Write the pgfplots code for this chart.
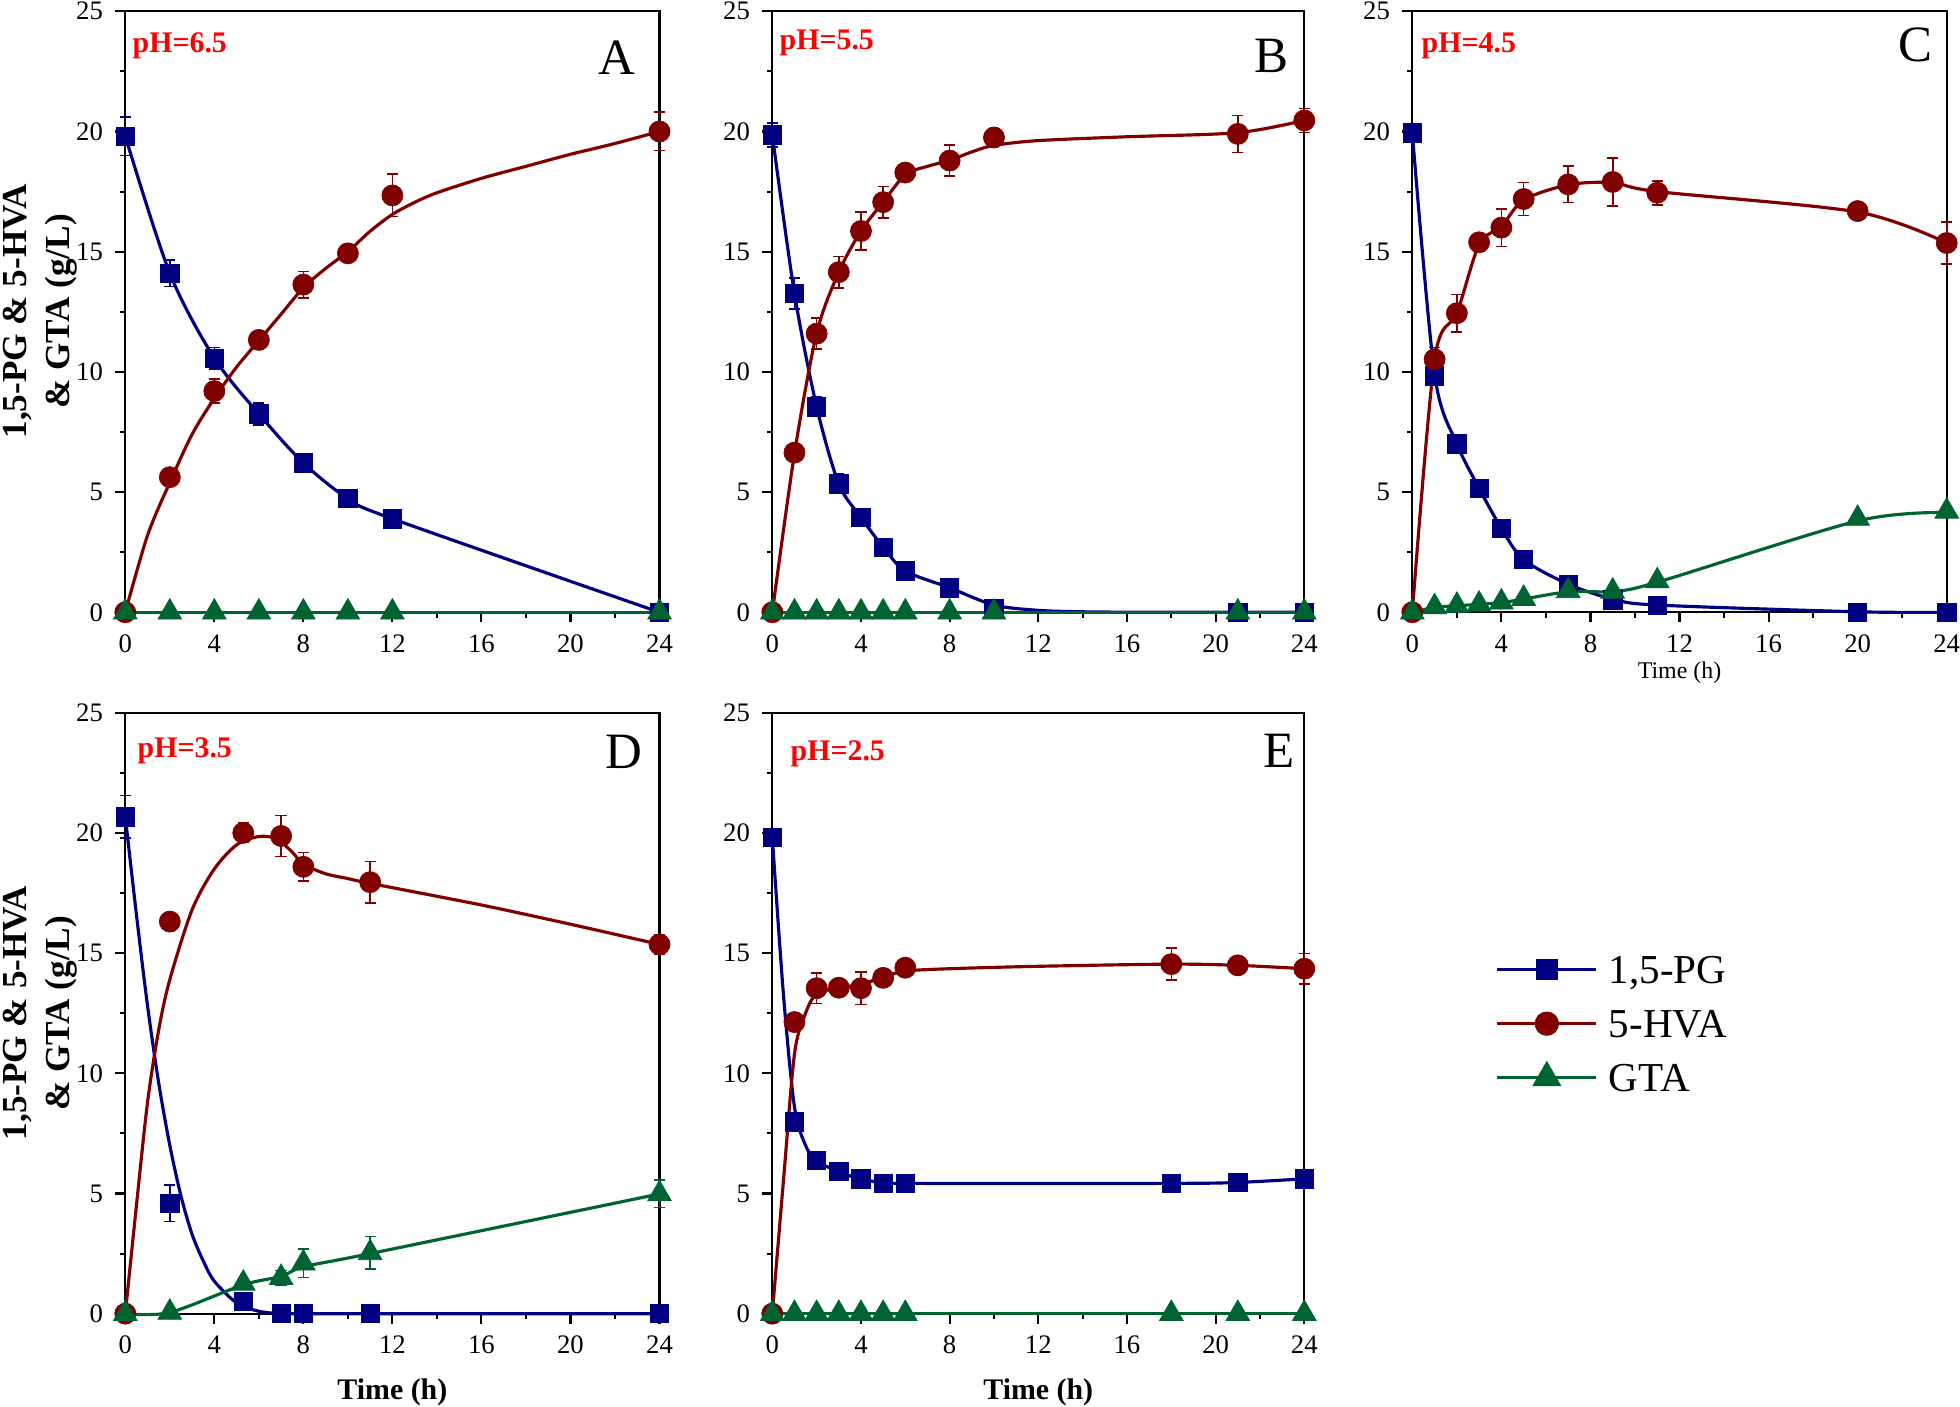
\documentclass[border=0pt]{standalone}
\usepackage{fontspec}
\setmainfont{Liberation Serif}
\usepackage{pgfplots}
\pgfplotsset{compat=1.18}
\definecolor{cblue}{RGB}{0,0,128}
\definecolor{cred}{RGB}{128,0,0}
\definecolor{cgreen}{RGB}{0,100,50}
\definecolor{phred}{RGB}{255,0,0}
\pgfplotsset{
  panel/.style={
    scale only axis, height=60.1mm,
    xmin=0, xmax=24, ymin=0, ymax=25,
    xtick={0,4,...,24}, ytick={0,5,...,25},
    minor x tick num=1, minor y tick num=1,
    tick align=outside, tick pos=left,
    major tick length=1mm, minor tick length=0.55mm,
    axis line style={line width=0.6pt, black},
    every tick/.style={line width=0.6pt, black},
    ticklabel style={font=\fontsize{7.6}{9}\selectfont},
    /pgf/number format/assume math mode=true,
    clip=false, anchor=south west,
  },
  ln/.style={color=#1, line width=0.9pt, smooth, no markers, forget plot},
  mk/.style n args={3}{only marks, mark=#1, mark size=#2, color=#3,
    mark options={solid, fill=#3, draw=#3, line width=0.2pt},
    error bars/y dir=both, error bars/y explicit,
    error bars/error mark=|,
    error bars/error bar style={line width=0.45pt, #3},
    error bars/error mark options={line width=0.45pt, #3, mark size=1.6pt},
    forget plot},
  bm/.style={mk={square*}{2.6pt}{cblue}},
  rm/.style={mk={*}{3pt}{cred}},
  gm/.style={mk={triangle*}{3.9pt}{cgreen}},
}
\begin{document}
\begin{tikzpicture}
\path[use as bounding box] (0,0) rectangle (196mm,140.7mm);

% ---------------- Panel A ----------------
\begin{axis}[panel, width=53.42mm, at={(12.53mm,79.47mm)}]
\addplot[ln=cblue] table {
0 19.8
2 14.1
4 10.57
6 8.25
8 6.21
10 4.73
12 3.89
24 0
};
\addplot[bm] table[x index=0,y index=1,y error index=2] {
0 19.8 0.8
2 14.1 0.55
4 10.57 0.45
6 8.25 0.45
8 6.21 0.35
10 4.73 0.2
12 3.89 0.3
24 0 0
};
\addplot[ln=cred] table {
0 0
1 3.2
2 5.4
3 7.4
4 8.9
5 10.2
6 11.3
7 12.4
8 13.5
9 14.3
10 15.0
11 15.85
12 16.55
13 17.05
14 17.45
16 18.05
18 18.55
20 19.05
22 19.5
24 20.0
};
\addplot[rm] table[x index=0,y index=1,y error index=2] {
0 0 0
2 5.62 0.2
4 9.2 0.5
6 11.33 0.2
8 13.63 0.55
10 14.93 0.3
12 17.34 0.88
24 20.0 0.8
};
\addplot[ln=cgreen] table {
0 0
24 0
};
\addplot[gm] table[x index=0,y index=1,y error index=2] {
0 0 0
2 0 0
4 0 0
6 0 0
8 0 0
10 0 0
12 0 0
24 0 0
};
\end{axis}

% ---------------- Panel B ----------------
\begin{axis}[panel, width=53.2mm, at={(77.23mm,79.47mm)}]
\addplot[ln=cblue] table {
0 19.86
1 13.26
2 8.55
3 5.34
4 3.95
5 2.71
6 1.72
8 1.02
10 0.3
12 0.08
14 0.02
17 0
21 0
24 0
};
\addplot[bm] table[x index=0,y index=1,y error index=2] {
0 19.86 0.5
1 13.26 0.65
2 8.55 0.4
3 5.34 0.4
4 3.95 0.2
5 2.71 0.2
6 1.72 0.15
8 1.02 0.1
10 0.15 0.1
21 0 0
24 0 0
};
\addplot[ln=cred] table {
0 0
1 6.6
2 11.6
3 14.15
4 15.86
5 17.06
6 18.2
7 18.55
8 18.8
9 19.15
10 19.42
12 19.62
16 19.78
21 19.95
24 20.46
};
\addplot[rm] table[x index=0,y index=1,y error index=2] {
0 0 0
1 6.64 0.3
2 11.59 0.65
3 14.15 0.65
4 15.86 0.78
5 17.06 0.65
6 18.29 0.35
8 18.79 0.65
10 19.75 0.2
21 19.9 0.77
24 20.46 0.5
};
\addplot[ln=cgreen] table {
0 0
24 0
};
\addplot[gm] table[x index=0,y index=1,y error index=2] {
0 0 0
1 0 0
2 0 0
3 0 0
4 0 0
5 0 0
6 0 0
8 0 0
10 0 0
21 0 0
24 0 0
};
\end{axis}

% ---------------- Panel C ----------------
\begin{axis}[panel, width=53.44mm, at={(141.23mm,79.47mm)}]
\addplot[ln=cblue] table {
0 19.94
1 9.9
2 7.01
3 5.16
4 3.49
5 2.19
7 1.17
9 0.55
11 0.3
20 0.02
24 0
};
\addplot[bm] table[x index=0,y index=1,y error index=2] {
0 19.94 0.3
1 9.83 0.4
2 7.01 0.2
3 5.16 0.2
4 3.49 0.2
5 2.19 0.15
7 1.17 0.1
9 0.52 0.1
11 0.28 0.05
20 0 0
24 0 0
};
\addplot[ln=cred] table {
0 0
1 10.52
2 12.44
3 15.3
4 16.05
5 17.15
7 17.78
9 17.87
11 17.5
20 16.65
24 15.36
};
\addplot[rm] table[x index=0,y index=1,y error index=2] {
0 0 0
1 10.52 0.5
2 12.44 0.78
3 15.39 0.35
4 16.0 0.78
5 17.19 0.68
7 17.8 0.76
9 17.9 1.0
11 17.45 0.5
20 16.69 0.3
24 15.36 0.87
};
\addplot[ln=cgreen] table {
0 0
1 0.2
2 0.27
3 0.33
4 0.4
5 0.55
7 0.85
9 0.87
11 1.25
20 3.8
24 4.15
};
\addplot[gm] table[x index=0,y index=1,y error index=2] {
0 0 0
1 0.22 0
2 0.28 0
3 0.33 0
4 0.42 0
5 0.57 0
7 0.89 0
9 0.87 0
11 1.3 0
20 3.9 0
24 4.2 0
};
\end{axis}

% ---------------- Panel D ----------------
\begin{axis}[panel, width=53.42mm, at={(12.53mm,9.33mm)}]
\addplot[ln=cblue] table {
0 20.67
0.5 16.6
1 12.8
1.5 9.6
2 7.0
2.5 4.9
3 3.3
3.5 2.2
4 1.35
5 0.45
6 0.1
7 0
8 0
11 0
24 0
};
\addplot[bm] table[x index=0,y index=1,y error index=2] {
0 20.67 0.88
2 4.6 0.76
5.3 0.51 0.1
7 0 0
8 0 0
11 0 0
24 0 0
};
\addplot[ln=cred] table {
0 0
0.5 4.5
1 8.8
1.5 11.8
2 13.9
3 16.8
4 18.5
5 19.5
6 19.85
6.8 19.75
7.5 19.2
8 18.7
9 18.3
10 18.1
11 17.9
16 17.0
20 16.2
24 15.36
};
\addplot[rm] table[x index=0,y index=1,y error index=2] {
0 0 0
2 16.31 0.3
5.3 20.0 0.4
7 19.87 0.85
8 18.59 0.6
11 17.95 0.86
24 15.36 0.4
};
\addplot[ln=cgreen] table {
0 0
2 0.05
5.3 1.2
7 1.55
8 1.95
11 2.5
24 4.98
};
\addplot[gm] table[x index=0,y index=1,y error index=2] {
0 0 0
2 0.05 0.05
5.3 1.26 0.2
7 1.5 0.3
8 2.1 0.6
11 2.53 0.68
24 4.98 0.57
};
\end{axis}

% ---------------- Panel E ----------------
\begin{axis}[panel, width=53.2mm, at={(77.23mm,9.33mm)},
  legend style={at={(1.3585,0.6185)}, anchor=north west, draw=none, fill=none,
    inner sep=0pt, column sep=1.1mm, row sep=0pt,
    font=\fontsize{11.7}{14}\selectfont,
    nodes={inner sep=0pt, text height=4.1mm, text depth=1.3mm},
    cells={anchor=west}},
  legend image code/.code={\draw[mark repeat=2,mark phase=2,#1] plot coordinates {(0cm,0cm) (0.495cm,0cm) (0.99cm,0cm)};}]
\addplot[ln=cblue] table {
0 19.81
0.5 13.3
1 8.6
1.5 7.0
2 6.37
3 5.9
4 5.6
5 5.45
6 5.42
18 5.42
21 5.46
24 5.61
};
\addplot[bm] table[x index=0,y index=1,y error index=2] {
0 19.81 0.2
1 7.98 0.2
2 6.37 0.2
3 5.93 0.1
4 5.61 0.1
5 5.42 0.1
6 5.42 0.1
18 5.42 0.1
21 5.46 0.1
24 5.61 0.1
};
\addplot[ln=cred] table {
0 0
0.5 5.5
1 10.8
1.5 12.5
2 13.3
3 13.55
4 13.7
5 14.0
6 14.25
8 14.35
12 14.45
18 14.54
21 14.49
24 14.35
};
\addplot[rm] table[x index=0,y index=1,y error index=2] {
0 0 0
1 12.13 0.2
2 13.54 0.63
3 13.56 0.2
4 13.54 0.68
5 13.97 0.3
6 14.39 0.2
18 14.54 0.67
21 14.49 0.2
24 14.35 0.64
};
\addplot[ln=cgreen] table {
0 0
24 0
};
\addplot[gm] table[x index=0,y index=1,y error index=2] {
0 0 0
1 0 0
2 0 0
3 0 0
4 0 0
5 0 0
6 0 0
18 0 0
21 0 0
24 0 0
};
\addlegendimage{color=cblue, line width=0.9pt, mark=square*, mark size=2.6pt, mark options={fill=cblue}}
\addlegendentry{1,5-PG}
\addlegendimage{color=cred, line width=0.9pt, mark=*, mark size=3pt, mark options={fill=cred}}
\addlegendentry{5-HVA}
\addlegendimage{color=cgreen, line width=0.9pt, mark=triangle*, mark size=3.9pt, mark options={fill=cgreen}}
\addlegendentry{GTA}
\end{axis}

% ---------------- Texts ----------------
\begin{scope}[every node/.style={inner sep=0pt}]
\node[font=\fontsize{14.5}{17}\selectfont] at (61.7mm,134.9mm) {A};
\node[font=\fontsize{14.5}{17}\selectfont] at (127.1mm,135.1mm) {B};
\node[font=\fontsize{14.5}{17}\selectfont] at (191.5mm,136.2mm) {C};
\node[font=\fontsize{14.5}{17}\selectfont] at (62.35mm,65.5mm) {D};
\node[font=\fontsize{14.5}{17}\selectfont] at (127.95mm,65.65mm) {E};

\node[anchor=base west, font=\bfseries\fontsize{8.5}{10}\selectfont, text=phred] at (13.2mm,135.43mm) {pH=6.5};
\node[anchor=base west, font=\bfseries\fontsize{8.5}{10}\selectfont, text=phred] at (77.9mm,135.7mm) {pH=5.5};
\node[anchor=base west, font=\bfseries\fontsize{8.5}{10}\selectfont, text=phred] at (142.1mm,135.43mm) {pH=4.5};
\node[anchor=base west, font=\bfseries\fontsize{8.5}{10}\selectfont, text=phred] at (13.7mm,64.93mm) {pH=3.5};
\node[anchor=base west, font=\bfseries\fontsize{8.5}{10}\selectfont, text=phred] at (79.0mm,64.6mm) {pH=2.5};

\node[rotate=90, anchor=base, font=\bfseries\fontsize{10}{12}\selectfont] at (2.6mm,109.55mm) {1,5-PG \& 5-HVA};
\node[rotate=90, anchor=base, font=\bfseries\fontsize{10}{12}\selectfont] at (6.9mm,109.55mm) {\& GTA (g/L)};
\node[rotate=90, anchor=base, font=\bfseries\fontsize{10}{12}\selectfont] at (2.6mm,39.38mm) {1,5-PG \& 5-HVA};
\node[rotate=90, anchor=base, font=\bfseries\fontsize{10}{12}\selectfont] at (6.9mm,39.38mm) {\& GTA (g/L)};

\node[anchor=base, font=\bfseries\fontsize{8.5}{10}\selectfont] at (39.24mm,0.7mm) {Time (h)};
\node[anchor=base, font=\bfseries\fontsize{8.5}{10}\selectfont] at (103.83mm,0.7mm) {Time (h)};
\node[anchor=base, font=\fontsize{6.8}{8}\selectfont] at (167.95mm,72.8mm) {Time (h)};
\end{scope}
\end{tikzpicture}
\end{document}
